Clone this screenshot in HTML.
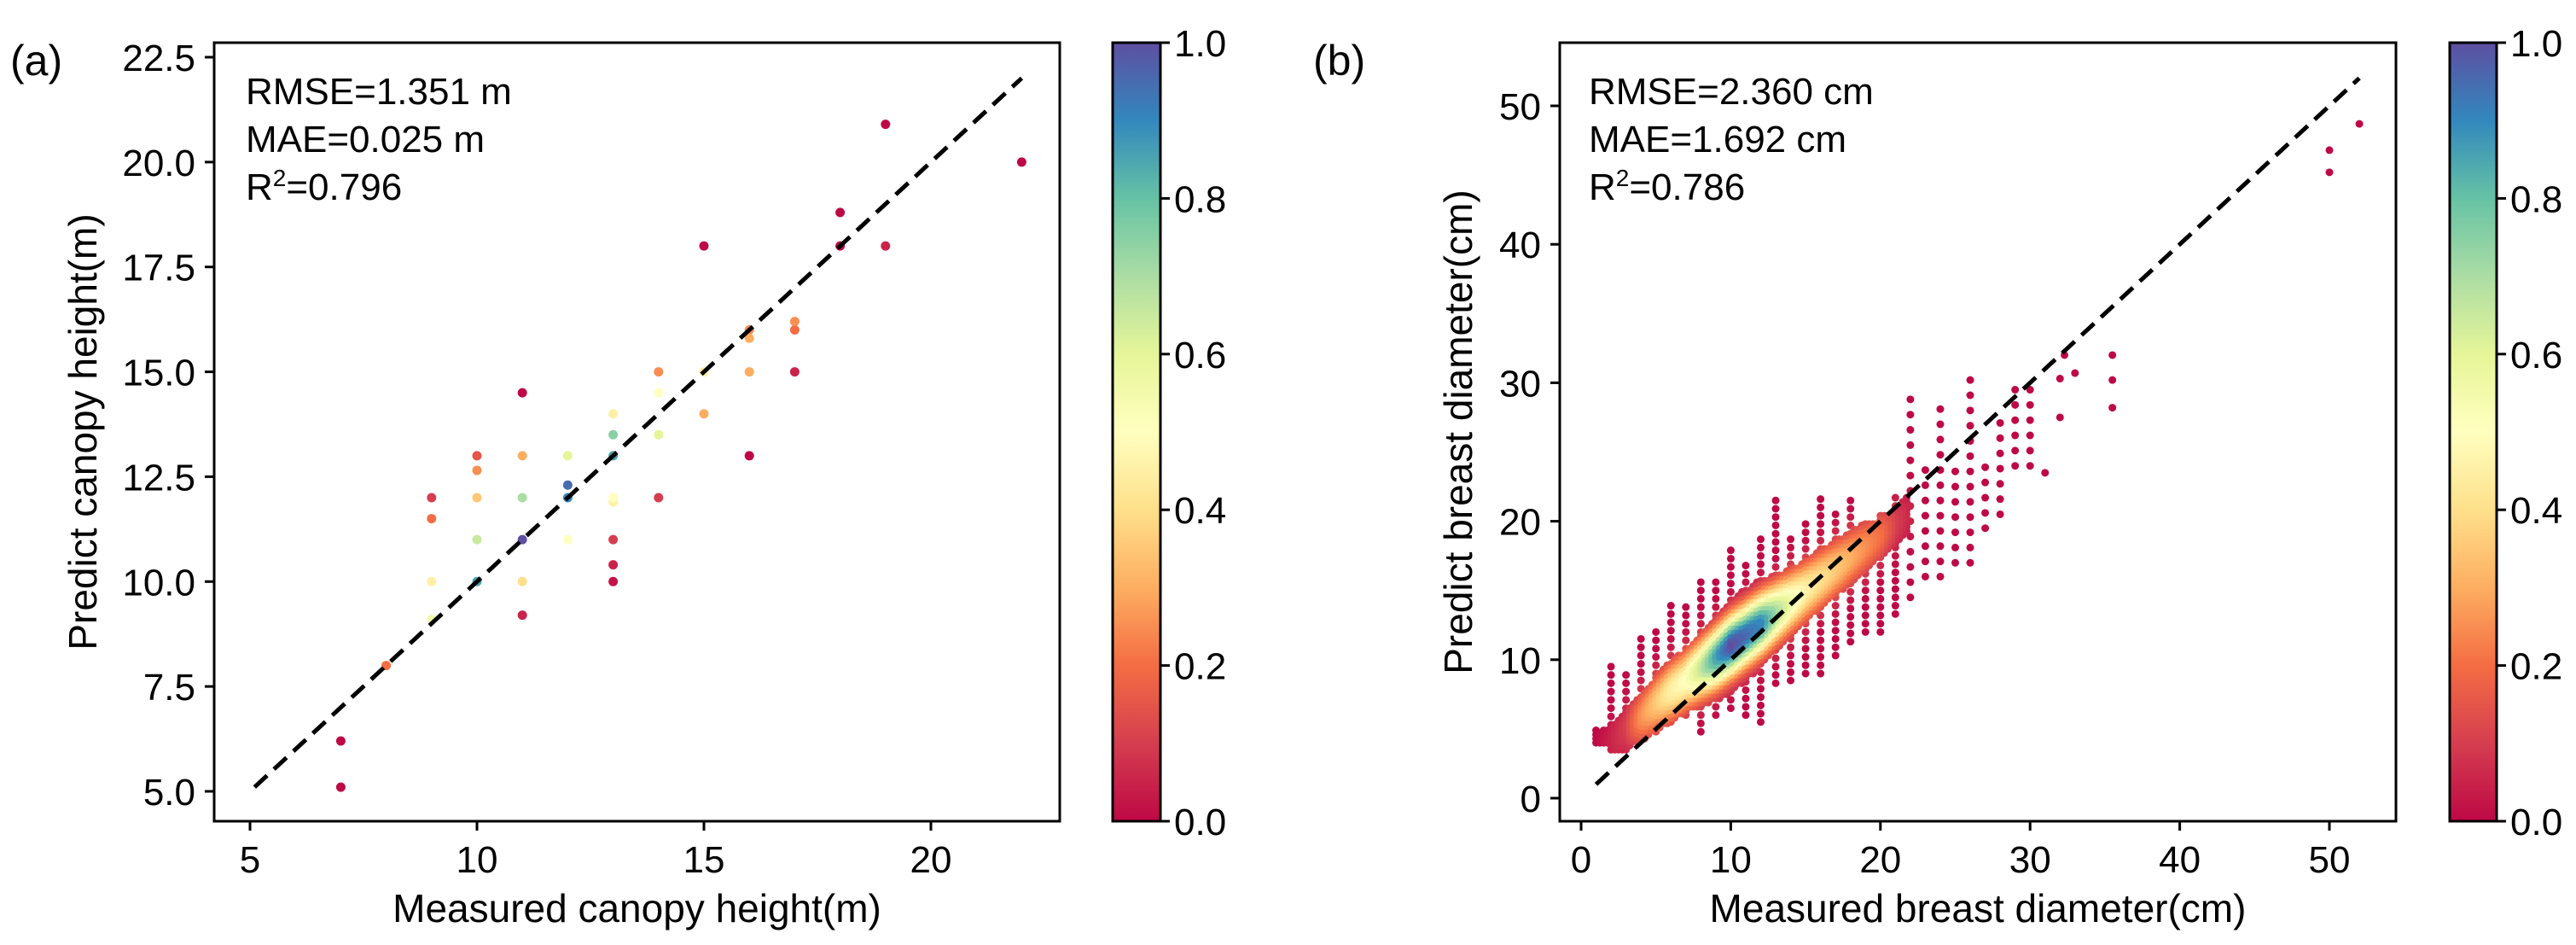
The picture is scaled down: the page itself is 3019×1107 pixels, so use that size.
<!DOCTYPE html>
<html><head><meta charset="utf-8"><style>
html,body{margin:0;padding:0;background:#fff;}
svg{display:block;font-family:"Liberation Sans",Arial,sans-serif;}
</style></head><body>
<svg id="fig" xmlns="http://www.w3.org/2000/svg" width="3019" height="1107" viewBox="0 0 3019 1107">
<defs>
<linearGradient id="spec" x1="0" y1="1" x2="0" y2="0">
<stop offset="0" stop-color="#be0846"/><stop offset="0.1" stop-color="#d53e4f"/><stop offset="0.2" stop-color="#f46d43"/><stop offset="0.3" stop-color="#fdae61"/><stop offset="0.4" stop-color="#fee08b"/><stop offset="0.5" stop-color="#ffffbf"/><stop offset="0.6" stop-color="#e6f598"/><stop offset="0.7" stop-color="#abdda4"/><stop offset="0.8" stop-color="#66c2a5"/><stop offset="0.9" stop-color="#3288bd"/><stop offset="1" stop-color="#5e4fa2"/>
</linearGradient>
</defs>
<g id="panelA"></g>
<g id="panelB"></g>
</svg>
<script>
// ---- Panel (a) data ----
const aX = [7,7,8,9,9,9,9,10,10,10,10,10,11,11,11,11,11,11,12,12,12,12,13,13,13,13,13,13,13,13,14,14,14,14,15,15,15,16,16,16,16,17,17,17,18,18,19,19,22];
const aY = [6.2,5.1,8,12,11.5,10,9.1,13,12.65,12,11,10,14.5,13,12,11,10,9.2,13,12.3,12,11,14,13.5,13,12,11.9,11,10.4,10,15,14.5,13.5,12,18,15,14,16,15.8,15,13,16.2,16,15,18.8,18,20.9,18,20];
const aC = [0,0,0.2,0.1,0.2,0.45,0.55,0.15,0.25,0.35,0.65,0.85,0,0.3,0.7,1.0,0.4,0.05,0.6,0.95,0.9,0.5,0.45,0.75,0.85,0.5,0.45,0.1,0.05,0.02,0.25,0.5,0.6,0.1,0,0.45,0.3,0.25,0.3,0.3,0,0.25,0.2,0.05,0,0,0,0.05,0];
const aXTicks = [5,10,15,20];
const aYTicks = [5.0,7.5,10.0,12.5,15.0,17.5,20.0,22.5];
const aLine = [5.1,22];
// ---- Panel (b) data ----
const bColX =    [1,2,3,4,5,6,7,8,9,10,11,12,13,14,15,16,17,18,19,20,21,22,23,24,25,26,27,28,29,30];
const bColMin =  [4,3.5,3.5,4,4.5,5.5,6,4.5,6,6.5,6,5.5,8,8.5,9,9,10,11,12,12,13,14.5,16,16,17,17,19.5,20.5,24,24];
const bColMax =  [5,10,9,12,12,14,14,16,16,18,17,19,21.5,19,20,22,21,21.5,20,20.5,22,29,24,28.5,24,31,24,28,30,29.5];
const bColCtr =  [3.5,4,5,5.8,6.8,7.7,8.5,9.3,10.1,11,11.8,12.6,13.4,14.2,15,15.8,16.6,17.4,18.2,19,19.8,20.6,21.4,22.2,23,23.8,24.6,25.4,26.2,27];
const bColPeak = [0,0.05,0.1,0.25,0.35,0.45,0.5,0.65,0.85,1.0,0.95,0.9,0.7,0.55,0.45,0.4,0.35,0.3,0.25,0.2,0.1,0.05,0,0,0,0,0,0,0,0];
const bOutX = [31,32,32,32.3,33,35.5,35.5,35.5,50,50,52];
const bOutY = [23.5,27.5,30.3,32,30.7,32,30.2,28.2,46.8,45.2,48.7];
const bXTicks = [0,10,20,30,40,50];
const bYTicks = [0,10,20,30,40,50];
const bLine = [1,52];
const cbTicks = [0.0,0.2,0.4,0.6,0.8,1.0];

const NS="http://www.w3.org/2000/svg";
function mk(tag, attrs, parent){const e=document.createElementNS(NS,tag);for(const k in attrs)e.setAttribute(k,attrs[k]);parent.appendChild(e);return e;}
const stops=[[0,[190,8,70]],[0.1,[213,62,79]],[0.2,[244,109,67]],[0.3,[253,174,97]],[0.4,[254,224,139]],[0.5,[255,255,191]],[0.6,[230,245,152]],[0.7,[171,221,164]],[0.8,[102,194,165]],[0.9,[50,136,189]],[1,[94,79,162]]];
function spectral(c){c=Math.max(0,Math.min(1,c));for(let i=1;i<stops.length;i++){if(c<=stops[i][0]){const a=stops[i-1],b=stops[i],t=(c-a[0])/(b[0]-a[0]);const r=a[1].map((v,j)=>Math.round(v+(b[1][j]-v)*t));return `rgb(${r[0]},${r[1]},${r[2]})`;}}return 'rgb(94,79,162)';}
function lin(d0,d1,r0,r1){return v=>r0+(v-d0)*(r1-r0)/(d1-d0);}

function axes(g, cfg){
  const {L,R,T,B,sx,sy,xTicks,yTicks,xFmt,yFmt,xlab,ylab,ylabX,cbL,cbR,label,labelX,stats,statsX,name}=cfg;
  const fr=mk('rect',{x:L,y:T,width:R-L,height:B-T,fill:'none',stroke:'#000','stroke-width':3},g);
  
  
  xTicks.forEach(v=>{const x=sx(v);
    const t=mk('line',{x1:x,x2:x,y1:B,y2:B+11,stroke:'#000','stroke-width':3},g);
    
    
    const tx=mk('text',{x:x,y:B+60,'font-size':44,'text-anchor':'middle',fill:'#000'},g);tx.textContent=xFmt(v);
    
    });
  yTicks.forEach(v=>{const y=sy(v);
    const t=mk('line',{x1:L-11,x2:L,y1:y,y2:y,stroke:'#000','stroke-width':3},g);
    
    
    const tx=mk('text',{x:L-22,y:y+16,'font-size':44,'text-anchor':'end',fill:'#000'},g);tx.textContent=yFmt(v);
    
    });
  const xl=mk('text',{x:(L+R)/2,y:B+118,'font-size':46,'text-anchor':'middle',fill:'#000'},g);xl.textContent=xlab;
  
  
  const yl=mk('text',{x:0,y:0,'font-size':46,'text-anchor':'middle',fill:'#000',transform:`translate(${ylabX},${(T+B)/2}) rotate(-90)`},g);yl.textContent=ylab;
  
  
  const pl=mk('text',{x:labelX,y:88,'font-size':50,fill:'#000'},g);pl.textContent=label;
  
  
  stats.forEach((s,i)=>{const t=mk('text',{x:statsX,y:122+i*56,'font-size':44,fill:'#000'},g);
    if(s.sup){t.textContent='R';const ts=mk('tspan',{'font-size':28,dy:-16},t);ts.textContent='2';const t2=mk('tspan',{'dy':16},t);t2.textContent=s.sup;}
    else t.textContent=s.t;
    
    });
  const cb=mk('rect',{x:cbL,y:T,width:cbR-cbL,height:B-T,fill:'url(#spec)',stroke:'#000','stroke-width':3},g);
  
  
  const cy=lin(0,1,B,T);
  cbTicks.forEach(v=>{const y=cy(v);
    const t=mk('line',{x1:cbR,x2:cbR+11,y1:y,y2:y,stroke:'#000','stroke-width':3},g);
    
    
    const tx=mk('text',{x:cbR+16,y:y+16,'font-size':44,fill:'#000'},g);tx.textContent=v.toFixed(1);
    
    });
}
function dashLine(g,sx,sy,v0,v1,name){
  const l=mk('line',{x1:sx(v0),y1:sy(v0),x2:sx(v1),y2:sy(v1),stroke:'#000','stroke-width':5,'stroke-dasharray':'20 11'},g);
  
  
}

// Panel A
(function(){
  const g=document.getElementById('panelA');
  const L=251,R=1242,T=50,B=962;
  const sx=lin(5,20,293,1091), sy=lin(5,22.5,927,67);
  const pts=aX.map((x,i)=>({x,y:aY[i],c:aC[i]})).sort((a,b)=>a.c-b.c);
  pts.forEach(p=>{const d=mk('circle',{cx:sx(p.x),cy:sy(p.y),r:5.5,fill:spectral(p.c)},g);
    
    });
  dashLine(g,sx,sy,aLine[0],aLine[1],'a');
  axes(g,{L,R,T,B,sx,sy,xTicks:aXTicks,yTicks:aYTicks,xFmt:v=>String(v),yFmt:v=>v.toFixed(1),
    xlab:'Measured canopy height(m)',ylab:'Predict canopy height(m)',ylabX:113,cbL:1304,cbR:1360,
    label:'(a)',labelX:12,stats:[{t:'RMSE=1.351 m'},{t:'MAE=0.025 m'},{sup:'=0.796'}],statsX:288,name:'a'});
})();

// Panel B
(function(){
  const g=document.getElementById('panelB');
  const L=1828,R=2808,T=50,B=962;
  const sx=lin(0,50,1853,2730), sy=lin(0,50,935,124);
  const pts=[];
  for(let i=0;i<bColX.length;i++){
    const dense=bColX[i]<=21;
    const j=Math.min(i+1,bColX.length-1);
    const nx=dense?4:1;
    for(let k=0;k<nx;k++){
      const fx=dense?k/nx:0;
      const x=bColX[i]+fx;
      const ctr=bColCtr[i]+(bColCtr[j]-bColCtr[i])*fx;
      const pk=bColPeak[i]+(bColPeak[j]-bColPeak[i])*fx;
      const coreHalf=dense?(1.2+2.2*pk):0;
      const ymin=bColMin[i], ymax=bColMax[i];
      // sparse streak at integer columns, dense core everywhere
      for(let y=ymin;y<=ymax+0.001;y+=(dense?0.3:1.1)){
        const inCore=Math.abs(y-ctr)<=coreHalf;
        if(!inCore && k!==0) continue;
        if(!inCore && dense && Math.abs(y-ctr)>coreHalf && ((Math.round(y/0.3))%2===1)) continue;
        const d=(y-ctr)/2.0;
        pts.push({x,y,c:pk*Math.exp(-d*d)});
      }
    }
  }
  bOutX.forEach((x,i)=>pts.push({x,y:bOutY[i],c:0}));
  pts.sort((a,b)=>a.c-b.c);
  pts.forEach(p=>{const d=mk('circle',{cx:sx(p.x),cy:sy(p.y),r:4.5,fill:spectral(p.c)},g);
    
    });
  dashLine(g,sx,sy,bLine[0],bLine[1],'b');
  axes(g,{L,R,T,B,sx,sy,xTicks:bXTicks,yTicks:bYTicks,xFmt:v=>String(v),yFmt:v=>String(v),
    xlab:'Measured breast diameter(cm)',ylab:'Predict breast diameter(cm)',ylabX:1725,cbL:2871,cbR:2926,
    label:'(b)',labelX:1539,stats:[{t:'RMSE=2.360 cm'},{t:'MAE=1.692 cm'},{sup:'=0.786'}],statsX:1862,name:'b'});
})();
</script>
</body></html>
